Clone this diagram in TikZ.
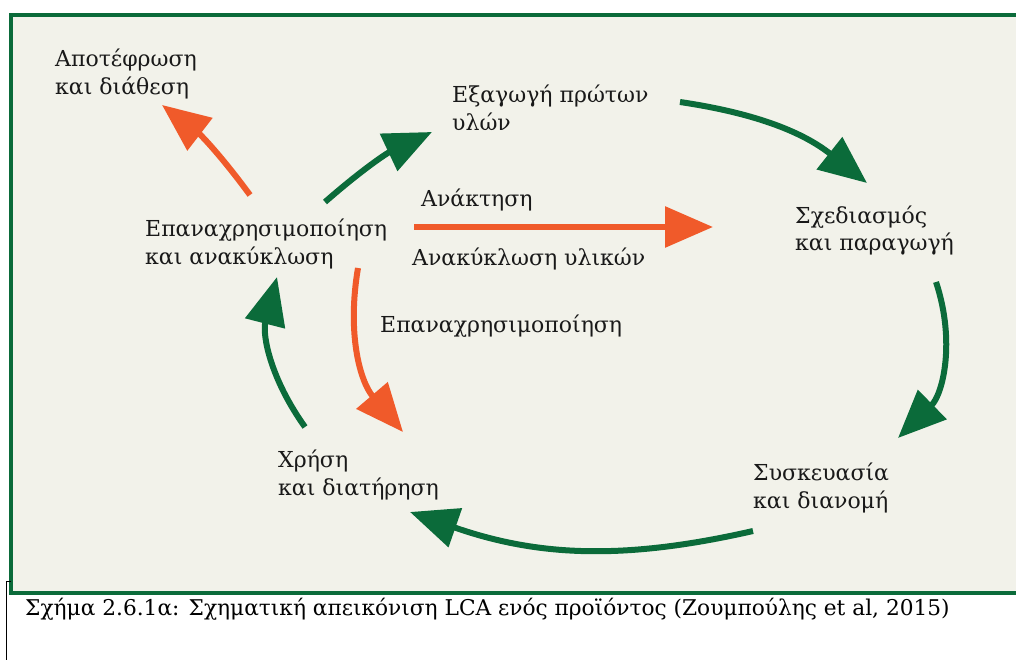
\documentclass[tikz,border=0pt]{standalone}
\usepackage{fontspec}
\setmainfont{DejaVu Serif}
\newfontfamily\grserif{DejaVu Serif}
\usetikzlibrary{arrows.meta}
\definecolor{lcagreen}{HTML}{0B6B3A}
\definecolor{lcaorange}{HTML}{F05A2A}
\definecolor{panel}{HTML}{F2F2EA}

\begin{document}
\begin{tikzpicture}[x=1pt,y=-1pt,
  txt/.style={font=\grserif\fontsize{22}{28}\selectfont, align=left, anchor=base west, inner sep=0pt, text=black!90},
  cyc/.style={draw=lcagreen, line width=6pt, -{Triangle[length=48pt,width=40pt]}},
  rec/.style={draw=lcaorange, line width=6pt, -{Triangle[length=48pt,width=40pt]}}]

% page, panel and frame
\useasboundingbox (0,0) rectangle (1016,660);
\fill[white] (0,0) rectangle (1016,660);
\fill[panel] (11,15) rectangle (1016,593);
\draw[lcagreen, line width=4pt] (1016,15) -- (11,15) -- (11,593) -- (1016,593);
\draw[black, line width=1pt] (11,581) -- (6.5,581) -- (6.5,660);

% stage labels (two-line labels are placed by their second baseline)
\node[txt] (ash)  at (55,95)   {Αποτέφρωση\\και διάθεση};
\node[txt] (ext)  at (452,131) {Εξαγωγή πρώτων\\υλών};
\node[txt] (des)  at (795,251) {Σχεδιασμός\\και παραγωγή};
\node[txt] (pack) at (753,508) {Συσκευασία\\και διανομή};
\node[txt] (use)  at (278,495) {Χρήση\\και διατήρηση};
\node[txt] (rr)   at (145,264) {Επαναχρησιμοποίηση\\και ανακύκλωση};
\node[txt] (rec1) at (421,207) {Ανάκτηση};
\node[txt] (rec2) at (412,265) {Ανακύκλωση υλικών};
\node[txt] (reu)  at (380,332) {Επαναχρησιμοποίηση};

% arrow end points
\coordinate (a1s) at (250,195); \coordinate (a1e) at (162,105);
\coordinate (a2s) at (325,202); \coordinate (a2e) at (432,132);
\coordinate (a3s) at (680,102); \coordinate (a3e) at (867,183);
\coordinate (a4s) at (936,282); \coordinate (a4e) at (898,438);
\coordinate (a5s) at (753,531); \coordinate (a5e) at (410,512);
\coordinate (a6s) at (305,427); \coordinate (a6e) at (277,277);
\coordinate (a7s) at (358,268); \coordinate (a7e) at (403,432);
\coordinate (a8s) at (414,227); \coordinate (a8e) at (713,227);

% life-cycle loop
\draw[cyc] (a2s) to[bend left=8]  (a2e);
\draw[cyc] (a3s) to[bend left=15] (a3e);
\draw[cyc] (a4s) to[bend left=32] (a4e);
\draw[cyc] (a5s) to[bend left=16] (a5e);
\draw[cyc] (a6s) to[bend left=25] (a6e);

% recovery paths
\draw[rec] (a1s) to[bend right=8]  (a1e);
\draw[rec] (a7s) to[bend right=25] (a7e);
\draw[rec] (a8s) -- (a8e);

% caption
\node[anchor=base west, inner sep=0pt, font=\grserif\fontsize{21.7}{21.7}\selectfont] (cap) at (25,615)
  {Σχήμα 2.6.1α: Σχηματική απεικόνιση LCA ενός προϊόντος (Ζουμπούλης et al, 2015)};
\end{tikzpicture}
\end{document}
